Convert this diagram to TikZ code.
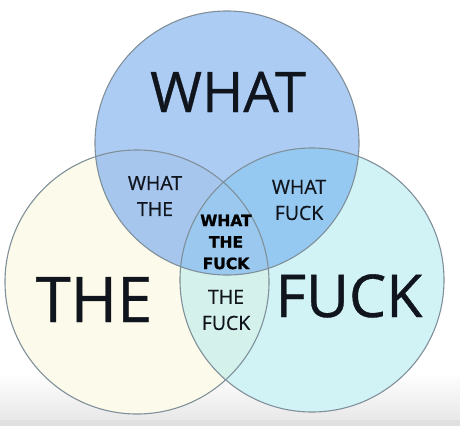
\documentclass[tikz,border=0pt]{standalone}
\usepackage{fontspec}
\setmainfont{Open Sans}[FakeBold=0.6]
\newfontfamily\heavyfont{DejaVu Sans}[BoldFeatures={FakeBold=1.2}]
\usepackage{xcolor}

\definecolor{whatblue}{RGB}{172,204,243}
\definecolor{thecream}{RGB}{252,250,234}
\definecolor{fuckcyan}{RGB}{210,243,245}
\definecolor{wtblue}{RGB}{166,198,238}
\definecolor{wfblue}{RGB}{150,201,241}
\definecolor{tfgreen}{RGB}{213,241,236}
\definecolor{coreblue}{RGB}{154,200,238}
\definecolor{ringgray}{RGB}{128,144,154}
\definecolor{inkcol}{RGB}{16,20,28}

\begin{document}
\begin{tikzpicture}[x=1pt, y=-1pt,
    big/.style={anchor=base, text=inkcol, font=\fontsize{56}{60}\selectfont},
    pair/.style={align=center, text=inkcol, font=\fontsize{19.5}{26}\selectfont},
    core/.style={align=center, text=black, font=\heavyfont\bfseries\fontsize{15.5}{21.5}\selectfont},
    ring/.style={draw=ringgray, line width=1.1pt}
]
    \useasboundingbox (0,0) rectangle (460,426);
    % page background with the grey strip at the bottom
    \fill[white] (0,0) rectangle (460,372);
    \shade[top color=white, bottom color=black!9] (0,372) rectangle (460,420);
    \fill[black!12] (0,420) rectangle (460,426);

    \coordinate (cwhat) at (227,143);
    \coordinate (cthe) at (137,282);
    \coordinate (cfuck) at (312,280);

    % the three sets
    \fill[thecream] (cthe) circle[radius=132pt];
    \fill[fuckcyan] (cfuck) circle[radius=132pt];
    \fill[whatblue] (cwhat) circle[radius=132pt];

    % overlaps
    \begin{scope}
        \clip (cwhat) circle[radius=132pt];
        \fill[wtblue] (cthe) circle[radius=132pt];
        \fill[wfblue] (cfuck) circle[radius=132pt];
    \end{scope}
    \begin{scope}
        \clip (cthe) circle[radius=132pt];
        \fill[tfgreen] (cfuck) circle[radius=132pt];
    \end{scope}
    \begin{scope}
        \clip (cwhat) circle[radius=132pt];
        \clip (cthe) circle[radius=132pt];
        \fill[coreblue] (cfuck) circle[radius=132pt];
    \end{scope}

    \draw[ring] (cwhat) circle[radius=132pt];
    \draw[ring] (cthe) circle[radius=132pt];
    \draw[ring] (cfuck) circle[radius=132pt];

    \node[big] (what) at (228,112) {WHAT};
    \node[big, font=\fontsize{63}{66}\selectfont] (the) at (94,322) {THE};
    \node[big, font=\fontsize{59}{62}\selectfont] (fuck) at (349,317) {FUCK};

    \node[pair] (whatthe) at (155,196) {WHAT\\THE};
    \node[pair] (whatfuck) at (299,200) {WHAT\\FUCK};
    \node[pair] (thefuck) at (226,310) {THE\\FUCK};
    \node[core] (wtf) at (226,242) {WHAT\\THE\\FUCK};
\end{tikzpicture}
\end{document}
